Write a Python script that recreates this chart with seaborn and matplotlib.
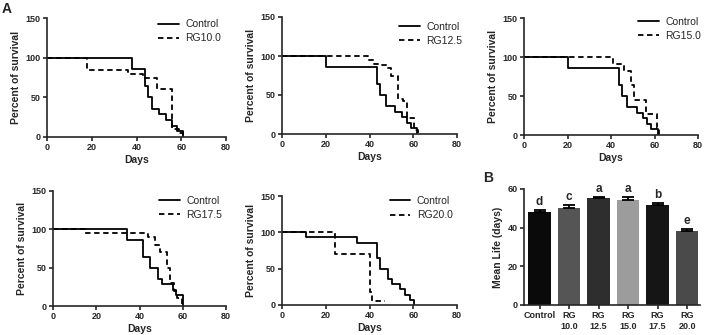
import matplotlib
matplotlib.use("Agg")
import matplotlib.pyplot as plt
import seaborn as sns
import numpy as np

# ---------------- data ----------------
# Control survival curves (one per panel)
ctrl1_t = [0, 38, 44, 45, 47, 50, 53, 56, 58, 61]
ctrl1_s = [100, 85.7, 64.3, 50, 35.7, 28.6, 21.4, 14.3, 7.1, 0]
ctrl2_t = [0, 20, 43.5, 45, 47.5, 51.5, 55, 57, 59, 61.5]
ctrl2_s = [100, 85.7, 64.3, 50, 35.7, 28.6, 21.4, 14.3, 7.1, 0]
ctrl3_t = [0, 20, 43.5, 45, 47.5, 52, 54.5, 56.5, 58.5, 61.5]
ctrl3_s = [100, 85.7, 64.3, 50, 35.7, 28.6, 21.4, 14.3, 7.1, 0]
ctrl4_t = [0, 34, 41.5, 45, 48.7, 50.2, 55.3, 57, 60.3]
ctrl4_s = [100, 85.7, 64.3, 50, 35.7, 28.6, 21.4, 14.3, 0]
ctrl5_t = [0, 11, 34.3, 43.4, 45, 48.5, 50.3, 54, 56.4, 58.4, 60.2]
ctrl5_s = [100, 92.9, 85.7, 64.3, 50, 35.7, 28.6, 21.4, 14.3, 7.1, 0]

# Treatment survival curves
rg100_t = [0, 18, 36, 43, 49, 56, 59, 61]
rg100_s = [100, 85, 80, 75, 60, 10, 5, 0]
rg125_t = [0, 39.5, 42, 45, 48, 50, 53, 55.5, 57, 60.5, 62]
rg125_s = [100, 95, 90, 88, 85, 75, 45, 42, 20, 5, 0]
rg150_t = [0, 41, 46, 49, 50.5, 56, 61, 62]
rg150_s = [100, 91, 82, 64, 45, 27, 9, 0]
rg175_t = [0, 15, 44, 47, 49.5, 52.5, 54, 56, 57.5, 59.5]
rg175_s = [100, 95, 90, 80, 70, 50, 30, 20, 10, 0]
rg200_t = [0, 24, 40, 41, 47]
rg200_s = [100, 70.6, 17.6, 5.9, 5.9]

treat_names = ["RG10.0", "RG12.5", "RG15.0", "RG17.5", "RG20.0"]

# Mean life bar chart
bar_groups = ["Control", "RG10.0", "RG12.5", "RG15.0", "RG17.5", "RG20.0"]
bar_ticklabels = ["Control", "RG\n10.0", "RG\n12.5", "RG\n15.0", "RG\n17.5", "RG\n20.0"]
bar_means = [47.9, 50.2, 55.2, 54.3, 51.5, 38.4]
bar_errs = [1.2, 1.5, 0.9, 1.4, 1.4, 1.1]
bar_letters = ["d", "c", "a", "a", "b", "e"]
bar_colors = ["#0a0a0a", "#555555", "#2e2e2e", "#9c9c9c", "#151515", "#4a4a4a"]

x_ticks = [0, 20, 40, 60, 80]
y_ticks = [0, 50, 100, 150]
bar_yticks = [0, 20, 40, 60]

# ---------------- style ----------------
sns.set_style("ticks")
plt.rcParams["font.family"] = ["Liberation Sans", "DejaVu Sans"]
plt.rcParams["axes.linewidth"] = 1.2
plt.rcParams["xtick.major.width"] = 1.2
plt.rcParams["ytick.major.width"] = 1.2
plt.rcParams["xtick.major.size"] = 3
plt.rcParams["ytick.major.size"] = 3
plt.rcParams["xtick.major.pad"] = 1.5
plt.rcParams["ytick.major.pad"] = 1.5
plt.rcParams["xtick.labelsize"] = 6.5
plt.rcParams["ytick.labelsize"] = 6.5

W, H = 708, 335
fig = plt.figure(figsize=(W / 100, H / 100), dpi=100)


def px_axes(x0, y0, x1, y1):
    return fig.add_axes([x0 / W, (H - y1) / H, (x1 - x0) / W, (y1 - y0) / H])


panels = [
    ((47, 18, 226, 137), ctrl1_t, ctrl1_s, rg100_t, rg100_s, treat_names[0], (0.62, 0.99)),
    ((282, 17, 457, 134), ctrl2_t, ctrl2_s, rg125_t, rg125_s, treat_names[1], (0.67, 0.96)),
    ((524, 18, 698, 135), ctrl3_t, ctrl3_s, rg150_t, rg150_s, treat_names[2], (0.655, 1.01)),
    ((53, 191, 226, 306), ctrl4_t, ctrl4_s, rg175_t, rg175_s, treat_names[3], (0.615, 0.96)),
    ((282, 196, 457, 305), ctrl5_t, ctrl5_s, rg200_t, rg200_s, treat_names[4], (0.615, 1.0)),
]

tick_font = dict(fontsize=6.5, fontweight="bold")

for box, ct, cs, tt, ts, tname, leg_anchor in panels:
    ax = px_axes(*box)
    sns.lineplot(x=ct, y=cs, ax=ax, drawstyle="steps-post", color="black",
                 lw=1.3, label="Control", estimator=None, sort=False)
    sns.lineplot(x=tt, y=ts, ax=ax, drawstyle="steps-post", color="black",
                 lw=1.3, linestyle=(0, (3, 2)), label=tname, estimator=None, sort=False)
    ax.set_xlim(0, 80)
    ax.set_ylim(0, 150)
    ax.set_xticks(x_ticks)
    ax.set_yticks(y_ticks)
    ax.set_xticklabels([str(v) for v in x_ticks], **tick_font)
    ax.set_yticklabels([str(v) for v in y_ticks], **tick_font)
    ax.set_xlabel("Days", fontsize=7.5, fontweight="bold", labelpad=2)
    ax.set_ylabel("Percent of survival", fontsize=7.5, fontweight="bold", labelpad=3)
    for side in ["top", "right"]:
        ax.spines[side].set_visible(False)
    ax.legend(loc="upper left", bbox_to_anchor=leg_anchor, frameon=False,
              fontsize=7.5, handlelength=2.0, handletextpad=0.6, borderpad=0,
              borderaxespad=0, labelspacing=0.4)

# ---------------- bar chart ----------------
axb = px_axes(524, 189, 700, 305)
sns.barplot(x=bar_groups, y=bar_means, hue=bar_groups, palette=bar_colors,
            legend=False, ax=axb, width=0.77, linewidth=0, saturation=1)
xs = np.arange(len(bar_groups))
axb.errorbar(xs, bar_means, yerr=[np.zeros(len(bar_errs)), bar_errs], fmt="none",
             ecolor="black", elinewidth=1.3, capsize=4, capthick=1.3)
for xi, m, e, let in zip(xs, bar_means, bar_errs, bar_letters):
    axb.text(xi, m + e + 1.0, let, ha="center", va="bottom", fontsize=8.5, fontweight="bold")
axb.set_xlim(-0.53, 5.44)
axb.set_ylim(0, 60)
axb.set_yticks(bar_yticks)
axb.set_yticklabels([str(v) for v in bar_yticks], **tick_font)
axb.set_xticks(xs)
axb.set_xticklabels(bar_ticklabels, **tick_font)
axb.set_ylabel("Mean Life (days)", fontsize=7.5, fontweight="bold", labelpad=3)
axb.set_xlabel("")
for side in ["top", "right"]:
    axb.spines[side].set_visible(False)

fig.text(2 / W, 1 - 2 / H, "A", fontsize=10, fontweight="bold", va="top", ha="left")
fig.text(483 / W, 1 - 171 / H, "B", fontsize=10, fontweight="bold", va="top", ha="left")

fig.savefig("out.png", dpi=100)
